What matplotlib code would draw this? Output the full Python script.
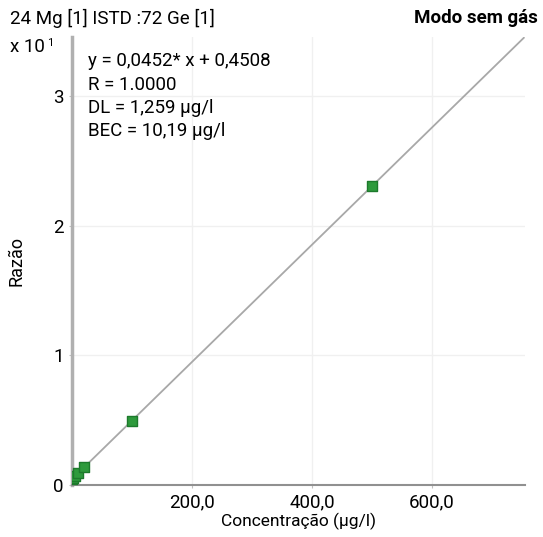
import matplotlib
matplotlib.use("Agg")
import matplotlib.pyplot as plt
import numpy as np

plt.rcParams['font.family'] = ['Roboto', 'DejaVu Sans']

conc = [0, 2, 5, 10, 20, 100, 500]
ratio = [0.045, 0.054, 0.068, 0.090, 0.135, 0.497, 2.305]
slope = 0.00452
intercept = 0.04508
xticks = [200, 400, 600]
xticklabels = ["200,0", "400,0", "600,0"]
yticks = [0, 1, 2, 3]
yticklabels = ["0", "1", "2", "3"]

FS = 13.5

fig = plt.figure(figsize=(5.43, 5.37), dpi=100)
ax = fig.add_axes([72/543, 1-485/537, (525-72)/543, (485-37)/537])
ax.set_xlim(0, 755)
ax.set_ylim(0, 3.455)

for x in xticks:
    ax.axvline(x, color='#f0f0f0', lw=1, zorder=0)
for y in yticks[1:]:
    ax.axhline(y, color='#f0f0f0', lw=1, zorder=0)

xl = np.array([0, 753])
ax.plot(xl, slope*xl + intercept, color='#a8a8a8', lw=1.3, zorder=2)
ax.scatter(conc, ratio, s=50, marker='s', color='#2e9a3c', edgecolors='#1d7a2c', lw=1, zorder=3)

for s in ['top', 'right']:
    ax.spines[s].set_visible(False)
ax.spines['left'].set_color('#b0b0b0')
ax.spines['left'].set_linewidth(2.5)
ax.spines['bottom'].set_color('#909090')
ax.spines['bottom'].set_linewidth(1.5)

ax.set_xticks(xticks)
ax.set_xticklabels(xticklabels, fontsize=13.5)
ax.set_yticks(yticks)
ax.set_yticklabels(yticklabels, fontsize=13.5)
ax.tick_params(length=2, color='#c0c0c0', pad=4)
ax.set_xlabel("Concentração (µg/l)", fontsize=12.5, labelpad=1)
ax.set_ylabel("Razão", fontsize=13, labelpad=20)

fig.text(10/543, 1-18/537, "24 Mg [1] ISTD :72 Ge [1]", fontsize=FS, va='center', ha='left')
fig.text(10/543, 1-47/537, "x 10", fontsize=FS, va='center', ha='left')
fig.text(47/543, 1-43/537, "1", fontsize=8, va='center', ha='left')
fig.text(538/543, 1-18/537, "Modo sem gás", fontsize=FS, fontweight='bold', va='center', ha='right')
lines = ["y = 0,0452* x + 0,4508", "R = 1.0000", "DL = 1,259 µg/l", "BEC = 10,19 µg/l"]
for i, t in enumerate(lines):
    fig.text(88/543, 1-(61+23.5*i)/537, t, fontsize=FS, va='center', ha='left')

fig.savefig("out.png", dpi=100)
